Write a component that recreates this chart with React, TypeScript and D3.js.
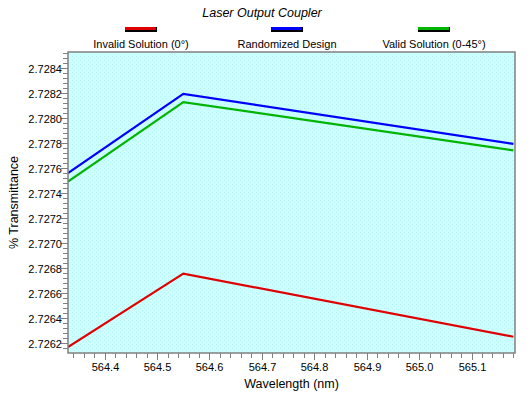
import { useRef, useEffect } from "react";
import * as d3 from "d3";

// Wavelength samples (nm)
const wavelengths = [564.33, 564.55, 565.18];
// % Transmittance per series
const invalidSolution = [2.72617, 2.726758, 2.726253];
const randomizedDesign = [2.727562, 2.728197, 2.727797];
const validSolution = [2.727494, 2.728131, 2.727745];

const seriesNames = ["Invalid Solution (0°)", "Randomized Design", "Valid Solution (0-45°)"];
const seriesColors = ["#e00000", "#0000ff", "#00b400"];

const xTicks = [564.4, 564.5, 564.6, 564.7, 564.8, 564.9, 565.0, 565.1];
const yTicks = [2.7262, 2.7264, 2.7266, 2.7268, 2.727, 2.7272, 2.7274, 2.7276, 2.7278, 2.728, 2.7282, 2.7284];

export default function App() {
  const svgRef = useRef<SVGSVGElement>(null);

  useEffect(() => {
    if (!svgRef.current) return;
    const svg = d3.select(svgRef.current);
    svg.selectAll("*").remove();

    const W = 531, H = 397;
    const left = 68, right = 515, top = 52, bottom = 353;
    const font = "'Liberation Sans', Arial, sans-serif";

    const x = d3.scaleLinear().domain([564.33, 565.183]).range([left, right]);
    const y = d3.scaleLinear().domain([2.726123, 2.728532]).range([bottom, top]);

    svg.append("rect").attr("width", W).attr("height", H).attr("fill", "#ffffff");

    // stipple pattern for plot background
    const defs = svg.append("defs");
    const pat = defs.append("pattern").attr("id", "stip")
      .attr("width", 4).attr("height", 4).attr("patternUnits", "userSpaceOnUse");
    pat.append("rect").attr("width", 4).attr("height", 4).attr("fill", "#ccffff");
    pat.append("rect").attr("x", 0).attr("y", 0).attr("width", 1).attr("height", 1).attr("fill", "#b6f2f6");
    pat.append("rect").attr("x", 2).attr("y", 2).attr("width", 1).attr("height", 1).attr("fill", "#bcf6f8");

    defs.append("clipPath").attr("id", "plotClip")
      .append("rect").attr("x", left).attr("y", top).attr("width", right - left).attr("height", bottom - top);

    svg.append("rect")
      .attr("x", left).attr("y", top)
      .attr("width", right - left).attr("height", bottom - top)
      .attr("fill", "url(#stip)");

    // series lines
    const allSeries = [invalidSolution, randomizedDesign, validSolution];
    const line = d3.line<number>()
      .x((_, i) => x(wavelengths[i]))
      .y(d => y(d));
    const g = svg.append("g").attr("clip-path", "url(#plotClip)");
    allSeries.forEach((s, i) => {
      g.append("path")
        .attr("d", line(s))
        .attr("fill", "none")
        .attr("stroke", seriesColors[i])
        .attr("stroke-width", 2.2);
    });

    // frame
    svg.append("rect")
      .attr("x", left).attr("y", top)
      .attr("width", right - left).attr("height", bottom - top)
      .attr("fill", "none").attr("stroke", "#808080").attr("stroke-width", 1.5);

    const tickColor = "#808080";

    // x ticks (minor every 0.02)
    const xMinor = d3.range(564.34, 565.19, 0.02).filter(v => v <= 565.183);
    xMinor.forEach(v => {
      const px = Math.round(x(v)) + 0.5;
      svg.append("line").attr("x1", px).attr("x2", px)
        .attr("y1", bottom).attr("y2", bottom + 5)
        .attr("stroke", tickColor);
    });
    xTicks.forEach(v => {
      const px = Math.round(x(v)) + 0.5;
      svg.append("line").attr("x1", px).attr("x2", px)
        .attr("y1", bottom).attr("y2", bottom + 7)
        .attr("stroke", tickColor);
      svg.append("text").attr("x", px).attr("y", 371)
        .attr("text-anchor", "middle").attr("font-family", font).attr("font-size", 11)
        .attr("fill", "#000").text(v.toFixed(1));
    });

    // y ticks (minor every 0.00004)
    const yMinor = d3.range(0, 61).map(i => 2.72612 + i * 0.00004).filter(v => v >= 2.726123 && v <= 2.728532);
    yMinor.forEach(v => {
      const py = Math.round(y(v)) + 0.5;
      svg.append("line").attr("x1", left - 5).attr("x2", left)
        .attr("y1", py).attr("y2", py).attr("stroke", tickColor);
    });
    yTicks.forEach(v => {
      const py = Math.round(y(v)) + 0.5;
      svg.append("line").attr("x1", left - 7).attr("x2", left)
        .attr("y1", py).attr("y2", py).attr("stroke", tickColor);
      svg.append("text").attr("x", 62).attr("y", py + 4)
        .attr("text-anchor", "end").attr("font-family", font).attr("font-size", 11)
        .attr("fill", "#000").text(v.toFixed(4));
    });

    // axis titles
    svg.append("text").attr("x", (left + right) / 2).attr("y", 388)
      .attr("text-anchor", "middle").attr("font-family", font).attr("font-size", 12.5)
      .attr("fill", "#000").text("Wavelength (nm)");
    svg.append("text")
      .attr("transform", `translate(18,${(top + bottom) / 2}) rotate(-90)`)
      .attr("text-anchor", "middle").attr("font-family", font).attr("font-size", 12.5)
      .attr("fill", "#000").text("% Transmittance");

    // title
    svg.append("text").attr("x", 262).attr("y", 17)
      .attr("text-anchor", "middle").attr("font-family", font).attr("font-size", 12.5)
      .attr("font-style", "italic").attr("fill", "#000").text("Laser Output Coupler");

    // legend
    const legendX = [141, 287, 434];
    seriesNames.forEach((name, i) => {
      const cx = legendX[i];
      svg.append("rect").attr("x", cx - 16).attr("y", 27).attr("width", 32).attr("height", 5)
        .attr("fill", "#000");
      svg.append("rect").attr("x", cx - 16).attr("y", 27).attr("width", 31).attr("height", 3)
        .attr("fill", seriesColors[i]);
      svg.append("text").attr("x", cx).attr("y", 48)
        .attr("text-anchor", "middle").attr("font-family", font).attr("font-size", 11)
        .attr("fill", "#000").text(name);
    });
  }, []);

  return (
    <svg
      ref={svgRef}
      width={531}
      height={397}
      style={{ position: "fixed", left: 0, top: 0, display: "block" }}
    />
  );
}
